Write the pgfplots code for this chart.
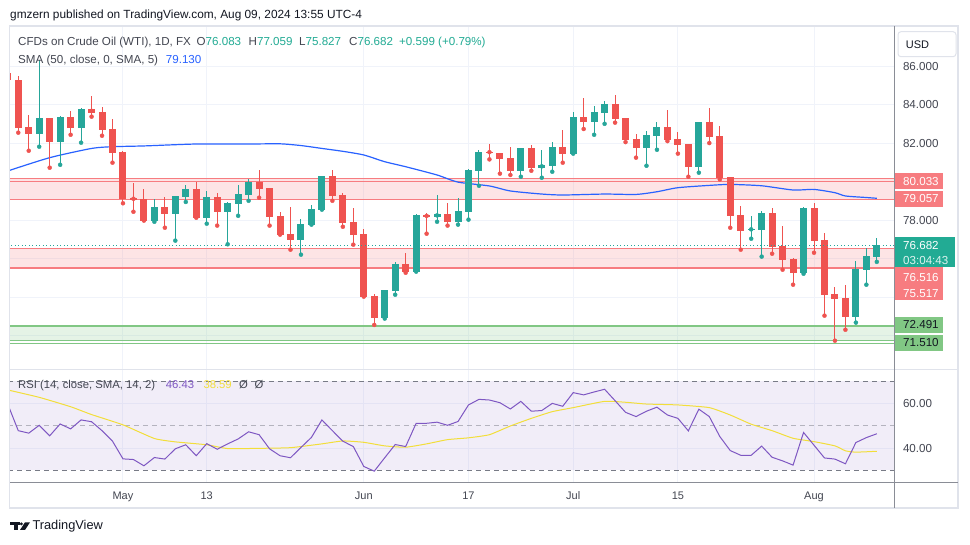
\documentclass[border=0pt]{standalone}
\usepackage{pgfplots}
\pgfplotsset{compat=1.18}
\usepackage{pgfplotstable}
\usepackage{fontspec}
\setmainfont{Liberation Sans}
\definecolor{upc}{HTML}{26A69A}
\definecolor{dnc}{HTML}{EF5350}
\definecolor{smac}{HTML}{2962FF}
\definecolor{rsic}{HTML}{7E57C2}
\definecolor{rsima}{HTML}{F2DE3A}
\definecolor{zred}{HTML}{F77C80}
\definecolor{zgreen}{HTML}{81C784}
\definecolor{gridc}{HTML}{F0F3FA}
\definecolor{framec}{HTML}{E0E3EB}
\definecolor{axc}{HTML}{8A8D96}
\definecolor{dashc}{HTML}{787B86}
\definecolor{txt}{HTML}{434651}
\definecolor{dark}{HTML}{131722}
\definecolor{tagteal}{HTML}{22AB94}
\newcommand\fs[1]{\fontsize{#1}{#1}\selectfont}

\pgfplotstableread{
i o h l c
2 82.49 86.30 81.81 83.30
4 82.07 83.40 80.87 83.35
6 82.80 83.84 82.02 83.77
13 77.97 79.07 77.91 78.68
15 78.33 79.25 76.93 79.25
16 79.21 79.82 78.94 79.61
18 78.12 79.51 77.81 79.20
20 78.43 78.94 76.74 78.88
21 78.85 79.82 78.22 79.35
22 79.32 80.15 79.00 79.97
27 76.98 78.05 76.20 77.79
28 77.76 78.78 77.76 78.57
29 78.54 80.29 78.54 80.29
35 72.93 74.36 72.88 74.36
36 74.33 75.82 74.12 75.71
38 75.32 78.31 75.32 78.26
40 78.17 79.30 77.91 78.31
42 77.91 79.14 77.76 78.47
43 78.43 80.65 78.02 80.60
44 80.56 81.64 79.78 81.53
48 80.56 81.74 80.25 81.74
50 80.72 81.64 80.20 80.86
51 80.82 82.05 80.51 81.79
53 81.45 83.61 81.45 83.35
55 83.11 83.92 82.43 83.61
56 83.58 84.18 83.00 84.03
60 81.76 82.62 80.82 82.42
61 82.38 83.09 81.65 82.83
65 80.77 83.09 80.46 83.09
70 77.50 78.21 77.03 77.53
71 77.48 78.47 76.10 78.36
75 75.26 78.68 75.21 78.62
80 72.98 75.87 72.67 75.45
81 75.42 76.55 74.64 76.13
82 76.083 77.059 75.827 76.682
}\upcandles

\pgfplotstableread{
i o h l c
-1 85.64 85.70 85.20 85.27
0 85.27 85.48 82.54 82.80
1 82.83 83.45 81.60 82.49
3 83.30 83.32 80.72 82.07
5 83.35 83.66 82.43 82.80
7 83.77 84.44 83.37 83.58
8 83.61 83.87 82.38 82.69
9 82.73 83.25 80.98 81.50
10 81.53 81.58 78.87 79.11
11 79.14 79.90 78.43 79.07
12 79.07 79.61 77.97 77.97
14 78.68 79.20 77.60 78.33
17 79.61 79.97 78.12 78.12
19 79.20 79.39 77.71 78.43
23 79.97 80.60 79.16 79.63
24 79.66 79.66 77.71 78.17
25 78.21 78.42 77.24 77.24
26 77.27 78.68 76.46 76.98
30 80.29 80.60 79.00 79.26
31 79.30 79.40 77.65 77.86
32 77.90 78.62 76.72 77.24
33 77.27 77.53 74.02 74.02
34 74.05 74.16 72.55 72.93
37 75.71 76.30 75.26 75.32
39 78.26 78.36 77.29 78.17
41 78.31 78.88 77.71 77.91
45 81.55 81.95 81.15 81.50
46 81.46 81.48 80.41 81.19
47 81.22 81.77 80.34 80.56
49 81.74 81.88 80.56 80.72
52 81.79 82.68 80.98 81.45
54 83.35 84.34 82.73 83.11
57 84.03 84.49 83.06 83.26
58 83.30 83.30 82.05 82.16
59 82.21 82.47 81.24 81.76
62 82.83 83.71 82.10 82.16
63 82.21 82.57 81.45 81.91
64 81.95 81.95 80.25 80.77
66 83.09 83.82 82.00 82.33
67 82.36 82.88 80.11 80.20
68 80.23 80.25 77.60 78.22
69 78.26 78.73 76.46 77.45
72 78.36 78.62 76.25 76.61
73 76.65 77.69 75.42 75.94
74 75.97 76.03 74.64 75.26
76 78.62 78.88 76.30 76.93
77 76.96 77.33 73.03 74.12
78 74.16 74.52 71.73 73.91
79 73.95 74.62 72.30 72.98
}\downcandles

\pgfplotstableread{
i v
-1 80.55
3 81.24
7 81.72
9 81.81
12 81.85
17 81.95
22 81.95
25 81.96
27 81.87
29 81.72
31 81.57
33 81.38
35 81.03
37 80.77
40 80.34
42 79.97
45 79.77
47 79.51
50 79.35
52 79.30
56 79.35
59 79.33
61 79.47
63 79.68
66 79.80
68 79.85
71 79.78
74 79.56
76 79.59
78 79.42
79 79.25
81 79.17
82 79.13
}\smatab

\pgfplotstableread{
i v
-1 59.6
0 47.8
1 46.7
2 50.2
3 45.5
4 50.8
5 48.6
6 52.6
7 51.8
8 47.8
9 43.1
10 35.2
11 34.9
12 32.1
13 35.8
14 35.1
15 39.7
16 41.5
17 36.6
18 42.0
19 39.5
20 41.9
21 44.1
22 47.3
23 46.0
24 39.7
25 36.6
26 35.7
27 40.3
28 44.8
29 52.6
30 47.8
31 43.1
32 40.7
33 31.8
34 29.7
35 35.7
36 41.6
37 40.7
38 51.1
39 51.1
40 51.6
41 50.2
42 51.9
43 59.3
44 61.8
45 61.5
46 60.3
47 57.5
48 60.9
49 56.5
50 56.8
51 60.0
52 58.7
53 64.8
54 63.8
55 65.1
56 66.3
57 61.2
58 56.0
59 54.1
60 56.5
61 58.3
62 54.8
63 53.3
64 47.7
65 57.4
66 54.1
67 45.2
68 38.9
69 36.8
70 36.8
71 40.9
72 35.9
73 34.3
74 32.4
75 47.0
76 41.3
77 35.6
78 35.1
79 33.0
80 42.5
81 44.7
82 46.43
}\rsitab

\pgfplotstableread{
i v
-1 66.0
2 62.7
5 58.5
7 55.0
10 50.4
13 44.3
15 42.8
18 41.5
20 39.8
23 39.9
26 40.2
29 41.9
31 43.2
33 42.6
35 41.0
37 40.4
39 41.9
41 43.8
43 44.6
45 46.0
47 49.9
49 53.3
51 56.3
53 58.1
56 60.9
58 60.5
60 59.7
63 59.3
66 58.1
68 54.8
70 50.7
72 47.8
74 44.4
76 42.9
78 41.0
79 38.8
80 38.2
82 38.59
}\rsimatab

\begin{document}
\begin{tikzpicture}
\path[use as bounding box] (0pt,0pt) rectangle (970pt,545pt);
\fill[white] (0pt,0pt) rectangle (970pt,545pt);

% ---------- main price pane ----------
\begin{axis}[
  at={(10pt,176pt)}, anchor=south west,
  width=884pt, height=342pt, scale only axis,
  xmin=-0.79, xmax=83.64, ymin=70.26, ymax=88.03,
  axis line style={draw=none}, tick style={draw=none},
  xtick={10,18,33,43,53,63,76}, xticklabels={},
  ytick={72,74,76,78,80,82,84,86},
  yticklabels={,,,78.000,,82.000,84.000,86.000},
  yticklabel pos=right,
  yticklabel style={anchor=west, xshift=5.5pt, font=\fs{11.6}, text=txt},
  /pgf/number format/assume math mode=true,
  grid=major, major grid style={gridc, line width=1pt},
]
% zones
\addplot[draw=none, fill=zred, fill opacity=0.2] coordinates {(-1,79.057) (84,79.057) (84,80.13) (-1,80.13)} -- cycle;
\addplot[draw=none, fill=zred, fill opacity=0.2] coordinates {(-1,75.517) (84,75.517) (84,76.516) (-1,76.516)} -- cycle;
\addplot[draw=none, fill=zgreen, fill opacity=0.2] coordinates {(-1,71.75) (84,71.75) (84,72.491) (-1,72.491)} -- cycle;
\addplot[zred, line width=0.8pt] coordinates {(-1,80.14) (84,80.14)};
\addplot[zred, line width=0.8pt] coordinates {(-1,80.02) (84,80.02)};
\addplot[zred, line width=1pt] coordinates {(-1,79.057) (84,79.057)};
\addplot[zred, line width=1pt] coordinates {(-1,76.516) (84,76.516)};
\addplot[zred, line width=2pt] coordinates {(-1,75.517) (84,75.517)};
\addplot[zgreen, line width=2pt] coordinates {(-1,72.491) (84,72.491)};
\addplot[zgreen, line width=1pt] coordinates {(-1,71.75) (84,71.75)};
\addplot[zgreen, line width=1pt] coordinates {(-1,71.58) (84,71.58)};
% SMA 50
\addplot[smac, line width=1.2pt, smooth, tension=0.4] table[x=i, y=v] {\smatab};
% wicks
\addplot[dnc, only marks, mark=none,
  error bars/.cd, y dir=plus, y explicit, error mark=none,
  error bar style={line width=1pt, solid}]
  table[x=i, y=l, y error expr={\thisrow{h}-\thisrow{l}}] {\downcandles};
\addplot[upc, only marks, mark=none,
  error bars/.cd, y dir=plus, y explicit, error mark=none,
  error bar style={line width=1pt, solid}]
  table[x=i, y=l, y error expr={\thisrow{h}-\thisrow{l}}] {\upcandles};
% bodies
\addplot[dnc, only marks, mark=none,
  error bars/.cd, y dir=both, y explicit, error mark=none,
  error bar style={line width=7pt, solid}]
  table[x=i, y expr={(\thisrow{o}+\thisrow{c})/2},
        y error expr={max(abs(\thisrow{o}-\thisrow{c})/2,0.03)}] {\downcandles};
\addplot[upc, only marks, mark=none,
  error bars/.cd, y dir=both, y explicit, error mark=none,
  error bar style={line width=7pt, solid}]
  table[x=i, y expr={(\thisrow{o}+\thisrow{c})/2},
        y error expr={max(abs(\thisrow{o}-\thisrow{c})/2,0.03)}] {\upcandles};
% last price line
\addplot[upc, line width=1pt, dash pattern=on 1pt off 2.5pt] coordinates {(-1,76.682) (84,76.682)};
\end{axis}

% ---------- RSI pane ----------
\begin{axis}[
  at={(10pt,63pt)}, anchor=south west,
  width=884pt, height=112pt, scale only axis,
  xmin=-0.79, xmax=83.64, ymin=24.86, ymax=74.92,
  axis line style={draw=none}, tick style={draw=none},
  xtick={10,18,33,43,53,63,76},
  xticklabels={May,13,Jun,17,Jul,15,Aug},
  xticklabel style={anchor=base, yshift=-18pt, font=\fs{11}, text=txt},
  ytick={40,60}, yticklabels={40.00,60.00},
  yticklabel pos=right,
  yticklabel style={anchor=west, xshift=5.5pt, font=\fs{11.6}, text=txt},
  /pgf/number format/assume math mode=true,
  grid=major, major grid style={gridc, line width=1pt},
]
\addplot[draw=none, fill=rsic, fill opacity=0.1] coordinates {(-1,30) (84,30) (84,70) (-1,70)} -- cycle;
\addplot[dashc, line width=1pt, dash pattern=on 5pt off 4pt] coordinates {(-1,70) (84,70)};
\addplot[dashc, line width=1pt, dash pattern=on 5pt off 4pt, opacity=0.5] coordinates {(-1,50) (84,50)};
\addplot[dashc, line width=1pt, dash pattern=on 5pt off 4pt] coordinates {(-1,30) (84,30)};
\addplot[rsima, line width=1pt, smooth, tension=0.3] table[x=i, y=v] {\rsimatab};
\addplot[rsic, line width=1pt] table[x=i, y=v] {\rsitab};
\end{axis}

\begin{scope}[x=1pt,y=1pt]
% ---------- frame and separators ----------
\draw[framec, line width=1.5pt] (9.3,519) rectangle (958,37);
\draw[framec, line width=1pt] (10,545-369.5) -- (958,545-369.5);
\draw[axc, line width=1pt] (10,545-482.5) -- (958,545-482.5);
\draw[axc, line width=1pt] (894.5,519) -- (894.5,37);

% ---------- header texts ----------
\node[anchor=base west, inner sep=0, font=\fs{11.85}, text=dark] at (10,545-18.3)
  {gmzern published on TradingView.com, Aug 09, 2024 13:55 UTC-4};
\node[anchor=base west, inner sep=0, font=\fs{11.6}, text=txt] at (18,545-45.7)
  {CFDs on Crude Oil (WTI), 1D, FX};
\node[anchor=base west, inner sep=0, font=\fs{11.6}] at (196.5,545-45.7)
  {\textcolor{txt}{O}\textcolor{tagteal}{76.083}};
\node[anchor=base west, inner sep=0, font=\fs{11.6}] at (248.5,545-45.7)
  {\textcolor{txt}{H}\textcolor{tagteal}{77.059}};
\node[anchor=base west, inner sep=0, font=\fs{11.6}] at (299,545-45.7)
  {\textcolor{txt}{L}\textcolor{tagteal}{75.827}};
\node[anchor=base west, inner sep=0, font=\fs{11.6}] at (349,545-45.7)
  {\textcolor{txt}{C}\textcolor{tagteal}{76.682}};
\node[anchor=base west, inner sep=0, font=\fs{11.6}, text=tagteal] at (399,545-45.7)
  {+0.599 (+0.79\%)};
\node[anchor=base west, inner sep=0, font=\fs{11.6}, text=txt] at (18,545-63.3)
  {SMA (50, close, 0, SMA, 5)};
\node[anchor=base west, inner sep=0, font=\fs{11.6}, text=smac] at (165.7,545-63.3)
  {79.130};
\node[anchor=base west, inner sep=0, font=\fs{11.3}, text=txt] at (18,545-388.5)
  {RSI (14, close, SMA, 14, 2)};
\node[anchor=base west, inner sep=0, font=\fs{11.3}, text=rsic] at (165.7,545-388.5) {46.43};
\node[anchor=base west, inner sep=0, font=\fs{11.3}, text=rsima] at (203.3,545-388.5) {38.59};
\node[anchor=base west, inner sep=0, font=\fs{11.3}, text=txt] at (239,545-388.5) {Ø};
\node[anchor=base west, inner sep=0, font=\fs{11.3}, text=txt] at (254.5,545-388.5) {Ø};

% ---------- price scale: USD box and tags ----------
\draw[framec, line width=1pt, rounded corners=3pt] (898,545-31.7) rectangle (956,545-56.7);
\node[anchor=base, inner sep=0, font=\fs{11}, text=dark] at (917.5,545-48.2) {USD};

\fill[zred] (895,545-173.3) rectangle (943,545-189.3);
\node[anchor=base west, inner sep=0, font=\fs{11.6}, text=white] at (903,545-185.5) {80.033};
\fill[zred] (895,545-191) rectangle (943,545-206.7);
\node[anchor=base west, inner sep=0, font=\fs{11.6}, text=white] at (903,545-203) {79.057};
\fill[tagteal] (895,545-237.3) rectangle (955,545-267.3);
\node[anchor=base west, inner sep=0, font=\fs{11.6}, text=white] at (903,545-249.3) {76.682};
\node[anchor=base west, inner sep=0, font=\fs{11.6}, text=white!85!tagteal] at (903,545-264.2) {03:04:43};
\fill[zred] (895,545-267.3) rectangle (943,545-300.5);
\node[anchor=base west, inner sep=0, font=\fs{11.6}, text=white] at (903,545-281.5) {76.516};
\node[anchor=base west, inner sep=0, font=\fs{11.6}, text=white] at (903,545-297.5) {75.517};
\fill[zgreen] (895,545-316.7) rectangle (943,545-332.7);
\node[anchor=base west, inner sep=0, font=\fs{11.6}, text=dark] at (903,545-329) {72.491};
\fill[zgreen] (895,545-335) rectangle (943,545-350.7);
\node[anchor=base west, inner sep=0, font=\fs{11.6}, text=dark] at (903,545-347) {71.510};

% ---------- TradingView footer ----------
\fill[dark] (10,545-522.3) rectangle (19.5,545-525.3);
\fill[dark] (14,545-522.3) rectangle (17.5,545-530);
\fill[dark] (21.3,545-523.9) circle (1.6);
\fill[dark] (25,545-522.3) -- (30,545-522.3) -- (25,545-530) -- (20,545-530) -- cycle;
\node[anchor=base west, inner sep=0, font=\fs{12.8}, text=dark] at (32.3,545-530) {TradingView};
\end{scope}
\end{tikzpicture}
\end{document}
